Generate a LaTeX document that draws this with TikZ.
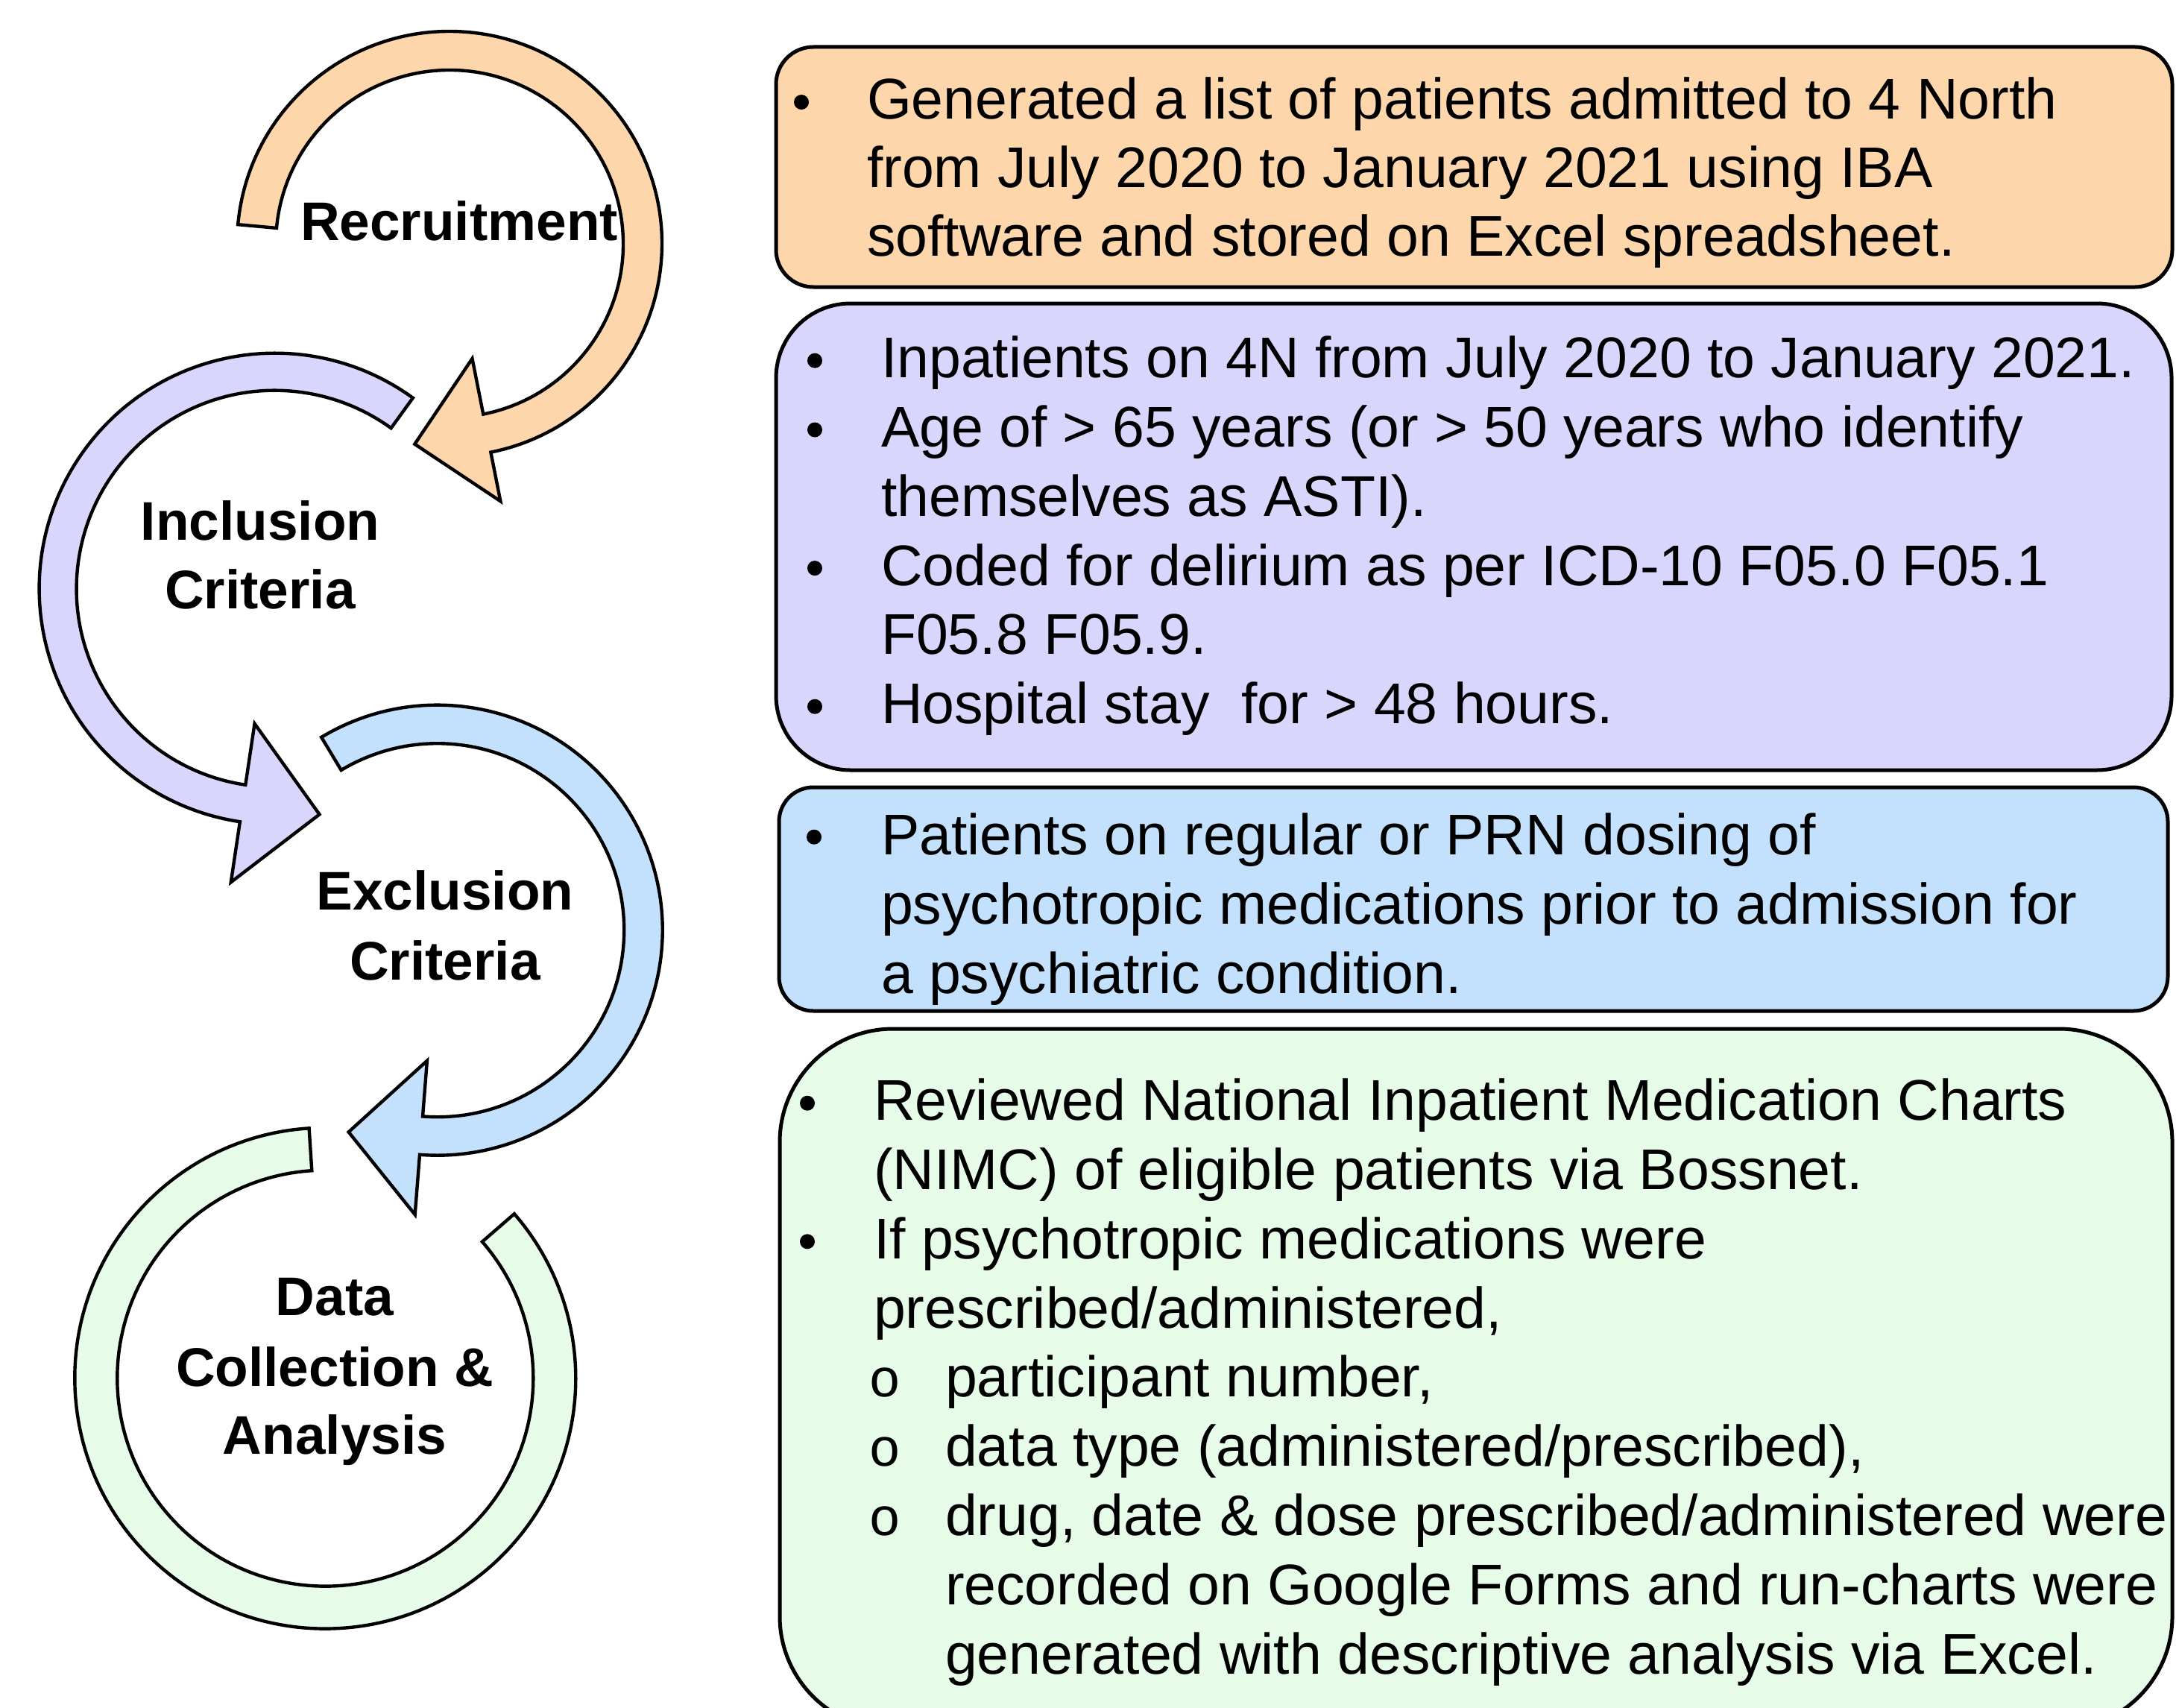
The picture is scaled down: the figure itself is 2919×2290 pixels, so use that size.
\documentclass[tikz,border=0pt]{standalone}
\usepackage{fontspec}
\setmainfont{Liberation Sans}
\newfontfamily\monobullet{Liberation Mono}
\usetikzlibrary{calc}

\definecolor{recF}{RGB}{253,214,172}
\definecolor{incF}{RGB}{216,214,253}
\definecolor{excF}{RGB}{195,224,252}
\definecolor{datF}{RGB}{231,252,232}

\tikzset{
  ring/.style={draw=black, line width=1.1pt, line join=miter},
  panel/.style={draw=black, line width=1.25pt},
  body/.style={anchor=base west, inner sep=0pt, outer sep=0pt,
    font=\fontsize{19.25pt}{23.2pt}\selectfont},
  lbl/.style={anchor=base, inner sep=0pt, outer sep=0pt,
    font=\fontsize{18.25pt}{23pt}\selectfont\bfseries},
  subbullet/.style={anchor=base, inner sep=0pt, outer sep=0pt,
    font=\monobullet\fontsize{18pt}{18pt}\selectfont},
}

\begin{document}
\begin{tikzpicture}[x=0.25pt, y=-0.25pt]
\useasboundingbox (0,0) rectangle (2919,2290);

% ---------- circular arrows ----------
\coordinate (oc) at (603,327);
\filldraw[ring, fill=recF]
  ($(oc)+(185.2:285)$) arc[start angle=185.2, end angle=438.8, radius=285]
  -- ($(oc)+(438.8:352)$) -- ($(oc)+(438.8:254.5)+(528.8:98)$)
  -- ($(oc)+(438.8:157)$) -- ($(oc)+(438.8:233)$)
  arc[start angle=438.8, end angle=185.2, radius=233] -- cycle;

\coordinate (pc) at (368.6,789.7);
\filldraw[ring, fill=incF]
  ($(pc)+(-54.1:316)$) arc[start angle=-54.1, end angle=-261.5, radius=316]
  -- ($(pc)+(-261.5:398)$) -- ($(pc)+(-261.5:290.5)+(-351.5:104)$)
  -- ($(pc)+(-261.5:183)$) -- ($(pc)+(-261.5:266)$)
  arc[start angle=-261.5, end angle=-54.1, radius=266] -- cycle;

\coordinate (bc) at (586.7,1247.7);
\filldraw[ring, fill=excF]
  ($(bc)+(-121:302)$) arc[start angle=-121, end angle=94.5, radius=302]
  -- ($(bc)+(94.5:382.7)$) -- ($(bc)+(94.5:279.2)+(184.5:97.5)$)
  -- ($(bc)+(94.5:175.6)$) -- ($(bc)+(94.5:250.5)$)
  arc[start angle=94.5, end angle=-121, radius=250.5] -- cycle;

\coordinate (gc) at (436.3,1848.6);
\filldraw[ring, fill=datF]
  ($(gc)+(-93.7:336)$) arc[start angle=-93.7, end angle=-401, radius=336]
  -- ($(gc)+(-401:279)$)
  arc[start angle=-401, end angle=-93.7, radius=279] -- cycle;

% ---------- stage labels ----------
\node[lbl] (recruit) at (616,322.7) {Recruitment};
\node[lbl] (incl1) at (349,724.6) {Inclusion};
\node[lbl] (incl2) at (349,816.3) {Criteria};
\node[lbl] (excl1) at (597,1220.9) {Exclusion};
\node[lbl] (excl2) at (597,1314.9) {Criteria};
\node[lbl] (data1) at (449,1764.4) {Data};
\node[lbl] (data2) at (449,1859.2) {Collection \&};
\node[lbl] (data3) at (449,1950.5) {Analysis};

% ---------- description panels ----------
\draw[panel, fill=recF, rounded corners=12.5pt] (1041,63) rectangle (2914,385);
\draw[panel, fill=incF, rounded corners=25pt] (1041,407) rectangle (2913,1033);
\draw[panel, fill=excF, rounded corners=11.5pt] (1045,1056) rectangle (2908,1356);
\draw[panel, fill=datF, rounded corners=38pt] (1046,1380) rectangle (2914,2320);

% recruitment panel
\fill (1075,137) circle[radius=10];
\node[body] (r1) at (1163,159.3) {Generated a list of patients admitted to 4 North};
\node[body] (r2) at (1163,251.7) {from July 2020 to January 2021 using IBA};
\node[body] (r3) at (1163,343.3) {software and stored on Excel spreadsheet.};

% inclusion panel
\fill (1093,483.7) circle[radius=10];
\fill (1093,576.5) circle[radius=10];
\fill (1093,762.1) circle[radius=10];
\fill (1093,947.7) circle[radius=10];
\node[body] (i1) at (1182,506.7) {Inpatients on 4N from July 2020 to January 2021.};
\node[body] (i2) at (1182,599.5) {Age of > 65 years (or > 50 years who identify};
\node[body] (i3) at (1182,692.3) {themselves as ASTI).};
\node[body] (i4) at (1182,785.1) {Coded for delirium as per ICD-10 F05.0 F05.1};
\node[body] (i5) at (1182,877.9) {F05.8 F05.9.};
\node[body] (i6) at (1182,970.7) {Hospital stay\ \ for > 48 hours.};

% exclusion panel
\fill (1092,1122.7) circle[radius=10];
\node[body] (e1) at (1182,1146.7) {Patients on regular or PRN dosing of};
\node[body] (e2) at (1182,1239.5) {psychotropic medications prior to admission for};
\node[body] (e3) at (1182,1332.3) {a psychiatric condition.};

% data collection panel
\fill (1083,1479.7) circle[radius=10];
\fill (1083,1665.3) circle[radius=10];
\node[body] (d1) at (1172,1502.7) {Reviewed National Inpatient Medication Charts};
\node[body] (d2) at (1172,1595.5) {(NIMC) of eligible patients via Bossnet.};
\node[body] (d3) at (1172,1688.3) {If psychotropic medications were};
\node[body] (d4) at (1172,1781.1) {prescribed/administered,};
\node[subbullet] (s1) at (1187,1873.9) {o};
\node[subbullet] (s2) at (1187,1966.7) {o};
\node[subbullet] (s3) at (1187,2059.5) {o};
\node[body] (d5) at (1268,1873.9) {participant number,};
\node[body] (d6) at (1268,1966.7) {data type (administered/prescribed),};
\node[body] (d7) at (1268,2059.5) {drug, date \& dose prescribed/administered were};
\node[body] (d8) at (1268,2152.3) {recorded on Google Forms and run-charts were};
\node[body] (d9) at (1268,2245.1) {generated with descriptive analysis via Excel.};
\end{tikzpicture}
\end{document}
